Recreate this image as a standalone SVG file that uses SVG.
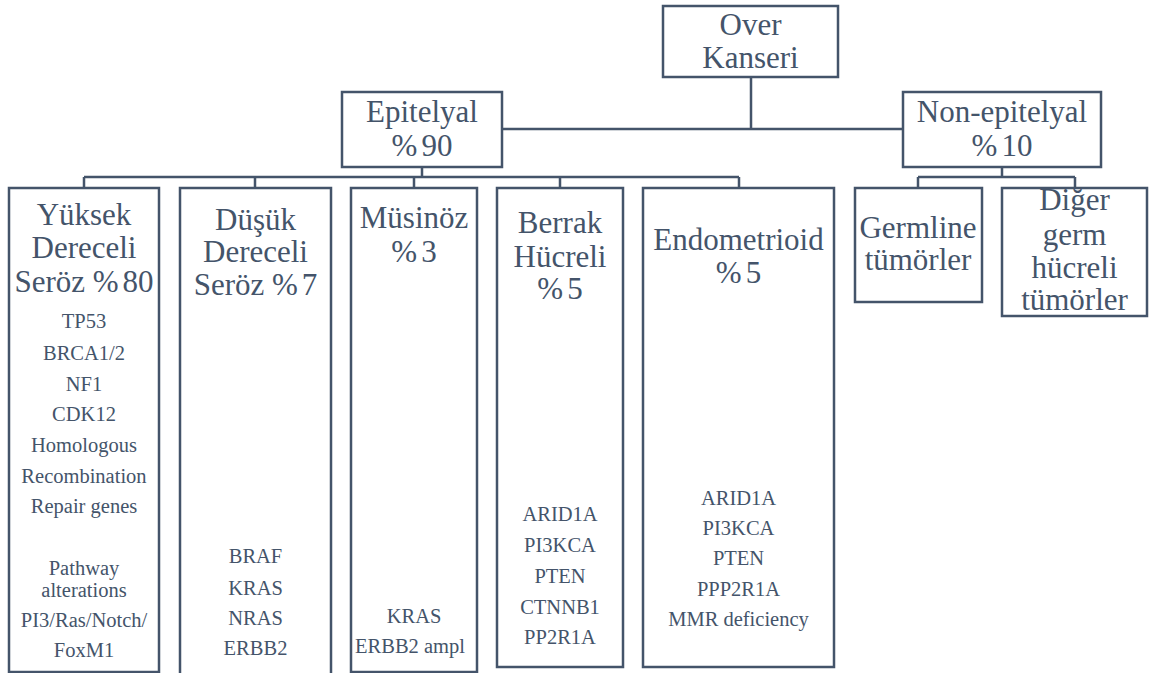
<svg xmlns="http://www.w3.org/2000/svg" width="1150" height="673" viewBox="0 0 1150 673">
<style>
.box{fill:#ffffff;stroke:#44546A;stroke-width:2.5}
.conn{fill:none;stroke:#44546A;stroke-width:2.5}
text{font-family:'Liberation Serif',serif;fill:#44546A;text-anchor:middle}
.h{font-size:31px}
.g{font-size:20.5px}
</style>
<rect width="1150" height="673" fill="#ffffff"/>
<g id="connectors">
<path class="conn" d="M751 77V129M502 129H903"/>
<path class="conn" d="M422 167V177M84 177H739M84 177V188M255 177V188M414 177V188M560 177V188M739 177V188"/>
<path class="conn" d="M1002 167V177M918 177H1075M918 177V188M1075 177V188"/>
</g>
<g id="over">
<rect class="box" x="663" y="6" width="175" height="71"/>
<text class="h" x="750.5" y="35">Over</text>
<text class="h" x="750.5" y="68">Kanseri</text>
</g>
<g id="epitelyal">
<rect class="box" x="342" y="92" width="160" height="75"/>
<text class="h" x="422" y="122">Epitelyal</text>
<text class="h" x="422" y="156">%<tspan dx="4">90</tspan></text>
</g>
<g id="nonepitelyal">
<rect class="box" x="903" y="92" width="198" height="75"/>
<text class="h" x="1002" y="122">Non-epitelyal</text>
<text class="h" x="1002" y="156">%<tspan dx="4">10</tspan></text>
</g>
<g id="yuksek">
<rect class="box" x="9" y="188" width="150" height="484"/>
<text class="h" x="84" y="225">Yüksek</text>
<text class="h" x="84" y="258">Dereceli</text>
<text class="h" x="84" y="292">Seröz %<tspan dx="4">80</tspan></text>
<text class="g" x="84" y="328">TP53</text>
<text class="g" x="84" y="360">BRCA1/2</text>
<text class="g" x="84" y="391">NF1</text>
<text class="g" x="84" y="421">CDK12</text>
<text class="g" x="84" y="452">Homologous</text>
<text class="g" x="84" y="483">Recombination</text>
<text class="g" x="84" y="513">Repair genes</text>
<text class="g" x="84" y="575">Pathway</text>
<text class="g" x="84" y="597">alterations</text>
<text class="g" x="84" y="627">PI3/Ras/Notch/</text>
<text class="g" x="84" y="657">FoxM1</text>
</g>
<g id="dusuk">
<rect class="box" x="180" y="188" width="151" height="500"/>
<text class="h" x="255.5" y="230">Düşük</text>
<text class="h" x="255.5" y="262">Dereceli</text>
<text class="h" x="255.5" y="295">Seröz %<tspan dx="4">7</tspan></text>
<text class="g" x="255.5" y="563">BRAF</text>
<text class="g" x="255.5" y="595">KRAS</text>
<text class="g" x="255.5" y="625">NRAS</text>
<text class="g" x="255.5" y="655">ERBB2</text>
</g>
<g id="musinoz">
<rect class="box" x="351" y="188" width="126" height="484"/>
<text class="h" x="414" y="228">Müsinöz</text>
<text class="h" x="414" y="262">%<tspan dx="4">3</tspan></text>
<text class="g" x="414" y="623">KRAS</text>
<text class="g" x="410" y="653">ERBB2 ampl</text>
</g>
<g id="berrak">
<rect class="box" x="497" y="188" width="126" height="479"/>
<text class="h" x="560" y="233">Berrak</text>
<text class="h" x="560" y="267">Hücreli</text>
<text class="h" x="560" y="299">%<tspan dx="4">5</tspan></text>
<text class="g" x="560" y="521">ARID1A</text>
<text class="g" x="560" y="552">PI3KCA</text>
<text class="g" x="560" y="583">PTEN</text>
<text class="g" x="560" y="614">CTNNB1</text>
<text class="g" x="560" y="644">PP2R1A</text>
</g>
<g id="endometrioid">
<rect class="box" x="643" y="188" width="191" height="479"/>
<text class="h" x="738.5" y="250">Endometrioid</text>
<text class="h" x="738.5" y="283">%<tspan dx="4">5</tspan></text>
<text class="g" x="738.5" y="505">ARID1A</text>
<text class="g" x="738.5" y="535">PI3KCA</text>
<text class="g" x="738.5" y="565">PTEN</text>
<text class="g" x="738.5" y="596">PPP2R1A</text>
<text class="g" x="738.5" y="626">MMR deficiency</text>
</g>
<g id="germline">
<rect class="box" x="855" y="188" width="127" height="114"/>
<text class="h" x="918" y="238">Germline</text>
<text class="h" x="918" y="270">tümörler</text>
</g>
<g id="diger">
<rect class="box" x="1002" y="188" width="145" height="128"/>
<text class="h" x="1074.5" y="210">Diğer</text>
<text class="h" x="1074.5" y="245">germ</text>
<text class="h" x="1074.5" y="278">hücreli</text>
<text class="h" x="1074.5" y="310">tümörler</text>
</g>
</svg>
